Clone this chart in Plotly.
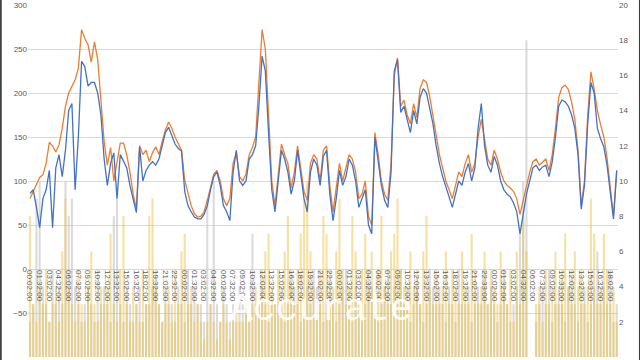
import plotly.graph_objects as go
import pandas as pd

# ---- data ----
times = pd.date_range("2021-03-01 00:02", periods=183, freq="30min").strftime("%Y-%m-%d %H:%M").tolist()

tick_labels = [
    "00:02:00", "01:32:00", "03:02:00", "04:32:00", "06:02:00", "07:32:00", "09:02:00", "10:32:00",
    "12:02:00", "13:32:00", "15:02:00", "16:32:00", "18:02:00", "19:32:00", "21:02:00", "22:32:00",
    "00:02:00", "01:32:00", "03:02:00", "04:32:00", "06:02:00", "07:32:00", "09:02:00", "10:32:00",
    "12:02:00", "13:32:00", "15:02:00", "16:32:00", "18:02:00", "19:32:00", "21:02:00", "22:32:00",
    "00:02:00", "01:32:00", "03:02:00", "04:32:00", "06:02:00", "07:32:00", "09:02:00", "10:32:00",
    "12:02:00", "13:32:00", "15:02:00", "16:32:00", "18:02:00", "19:32:00", "21:02:00", "22:33:00",
    "00:02:00", "01:32:00", "03:02:00", "04:32:00", "06:02:00", "07:32:00", "09:02:00", "10:33:00",
    "12:02:00", "13:32:00", "15:03:00", "16:32:00", "18:02:00",
]

orange_series = [
    80, 88, 95, 104, 107, 120, 144, 140, 133, 141,
    160, 185, 200, 208, 215, 228, 272, 262, 255, 235,
    258, 238, 190, 145, 118, 138, 100, 120, 143, 143,
    130, 110, 85, 68, 140, 130, 135, 122, 132, 139,
    130, 145, 158, 167, 160, 150, 142, 135, 101, 85,
    72, 63, 59,
    60, 65, 78, 95, 108, 112, 100, 80, 72, 80,
    120, 132, 105, 100, 108, 130, 138, 150, 205, 272,
    250, 170, 100, 72, 110, 142, 130, 120, 92, 110,
    140, 115, 88, 78, 120, 130, 125, 100, 135, 140,
    95, 65, 90, 120, 100, 115, 130, 125, 110, 80,
    85, 100, 60, 50, 155, 130, 100, 85, 78, 120,
    220, 240, 185, 192, 175, 165, 188, 172, 205, 215,
    212, 196, 175, 150, 130, 115, 100, 90, 80, 95,
    110, 105, 120, 130, 110, 120, 150, 170, 145, 125,
    118, 135, 125, 110, 100, 95, 92, 88, 80, 62,
    78, 95, 110, 122, 125, 118, 122, 125, 112, 130,
    160, 195, 206, 209, 204, 190, 170, 135, 72, 100,
    175, 224, 205, 180, 164, 150, 126, 90, 60, 112,
]

blue_series = [
    86, 90, 70, 47, 80, 90, 112, 47, 115, 130,
    105, 135, 180, 188, 90, 150, 236, 230, 208, 212,
    212, 200, 175, 125, 95, 120, 132, 80, 130, 122,
    115, 95, 78, 64, 139, 100, 112, 118, 122, 118,
    125, 140, 155, 161, 152, 142, 137, 134, 88, 72,
    65, 59, 57,
    57, 62, 72, 90, 105, 110, 95, 72, 65, 55,
    110, 135, 100, 95, 100, 125, 130, 140, 185, 242,
    225, 155, 90, 65, 100, 135, 125, 110, 85, 100,
    135, 105, 80, 65, 110, 125, 118, 95, 128, 135,
    85, 55, 80, 112, 95, 105, 125, 118, 100, 70,
    80, 90, 50, 40, 150, 120, 95, 78, 70, 110,
    225, 238, 178, 185, 168, 155, 180, 165, 195, 205,
    200, 184, 165, 140, 120, 105, 92, 82, 70, 85,
    100, 95, 110, 120, 100, 115, 160, 188, 140, 118,
    110, 128, 118, 100, 90, 85, 82, 75, 65, 40,
    65, 85, 100, 115, 118, 112, 116, 118, 105, 122,
    150, 185, 192, 190, 185, 175, 160, 130, 68, 95,
    165, 212, 200, 160, 148, 139, 118, 85, 57, 112,
]

yellow_bars = [
    8, 3, 2, 4, 3, 5, 2, 3, 4, 2, 6, 9, 4, 3, 2, 5, 3, 2, 4, 6, 3, 2, 4,
    3, 4, 7, 3, 2, 5, 8, 3, 2, 4, 3, 2, 5, 3, 8, 9, 4, 3, 2, 3, 4, 2, 5, 3, 6, 7, 3, 4, 2, 3,
    2, 1, 2, 3, 2, 1, 2, 3, 2, 1, 2, 3, 2, 2, 3, 2, 3, 4, 3, 5, 6, 7, 4, 3,
    5, 3, 6, 8, 4, 3, 5, 7, 9, 10, 6, 4, 3, 5, 8, 7, 3, 4, 6, 9, 5, 3, 4, 8, 6, 3, 5, 7, 4, 6, 3, 5, 8, 4, 3, 6,
    7, 9, 5, 4, 3, 6, 4, 5, 3, 6, 8, 4, 3, 5, 3, 4, 6, 3, 5, 4, 3, 6, 4, 3, 7, 5, 3, 4, 6, 3, 5, 4, 3, 6, 4, 3, 5, 2, 6, 3,
    8, 6, 0, 0,
    3, 4, 2, 5, 3, 4, 6, 3, 5, 7, 4, 3, 6, 4, 5, 3, 4, 9, 7, 3, 4, 7, 5, 3, 4, 2,
]

gray_bars = [
    2, 3, 9, 10, 4, 3, 2, 5, 3, 4, 3, 10, 8, 9, 4, 3, 2, 3, 4, 3, 2, 5, 3,
    4, 3, 2, 8, 9, 3, 2, 4, 3, 2, 3, 4, 2, 3, 3, 4, 5, 3, 2, 4, 3, 3, 2, 4, 3, 2, 5, 3, 4, 3,
    3, 2, 9, 3, 10, 3, 2, 4, 3, 2, 3, 2, 4, 3, 3, 2, 7, 3, 3, 4, 3, 2, 3, 3,
    3, 4, 2, 3, 5, 4, 3, 2, 3, 4, 3, 5, 4, 3, 2, 4, 5, 3, 2, 3, 4, 5, 3, 2, 4, 3, 2, 3, 5, 4, 3, 2, 3, 4, 5, 3,
    4, 3, 5, 3, 4, 2, 3, 4, 3, 2, 3, 5, 4, 3, 4, 3, 2, 4, 3, 2, 5, 3, 3, 4, 2, 3, 4, 3, 5, 3, 4, 3, 2, 3, 5, 3, 2, 3, 4, 7,
    10, 18, 0, 0,
    2, 3, 4, 3, 5, 2, 3, 4, 3, 2, 4, 5, 3, 2, 3, 4, 2, 3, 4, 6, 3, 4, 3, 5, 2, 3,
]

n = len(times)
assert len(orange_series) == n and len(blue_series) == n
assert len(yellow_bars) == n and len(gray_bars) == n

fig = go.Figure()
fig.add_trace(go.Bar(x=times, y=gray_bars, yaxis="y", marker=dict(color="rgba(195,195,195,0.6)", line=dict(width=0))))
fig.add_trace(go.Bar(x=times, y=yellow_bars, yaxis="y", marker=dict(color="rgba(240,196,70,0.5)", line=dict(width=0))))
fig.add_trace(go.Scatter(x=times, y=orange_series, yaxis="y2", mode="lines", line=dict(color="#ED7D31", width=1.3)))
fig.add_trace(go.Scatter(x=times, y=blue_series, yaxis="y2", mode="lines", line=dict(color="#4472C4", width=1.3)))

tickfont = dict(family="Liberation Sans, Arial, sans-serif", size=8, color="#595959")

fig.update_layout(
    width=640, height=360,
    margin=dict(l=28, r=22, t=5, b=3, autoexpand=False),
    paper_bgcolor="white", plot_bgcolor="white",
    showlegend=False,
    barmode="overlay", bargap=0.35,
    xaxis=dict(
        type="category", anchor="free", position=0.25, automargin=False,
        range=[-0.62, 182.4],
        tickmode="array", tickvals=times[::3], ticktext=tick_labels,
        tickangle=90, tickfont=tickfont, showgrid=False, showline=False,
        zeroline=False, ticks="",
    ),
    yaxis=dict(
        range=[0, 20], dtick=2, side="right", showgrid=False, zeroline=False,
        tickfont=tickfont, ticks="", automargin=False,
    ),
    yaxis2=dict(
        range=[-100, 300], dtick=50, side="left", overlaying="y", showgrid=True,
        gridcolor="#d9d9d9", gridwidth=1, zeroline=False, tickfont=tickfont, ticks="",
        automargin=False,
    ),
)

fig.add_annotation(
    text="Accurate", xref="paper", yref="paper", x=0.497, y=0.068,
    showarrow=False, font=dict(family="Liberation Mono, Courier New, monospace", size=38, color="rgba(255,255,255,0.9)"),
)

# dark frame edges seen in the screenshot
fig.add_shape(type="rect", xref="paper", yref="paper", x0=-0.0475, x1=-0.0445, y0=-0.01, y1=1.015,
              line=dict(width=0), fillcolor="#404040")
fig.add_shape(type="rect", xref="paper", yref="paper", x0=1.0355, x1=1.04, y0=-0.01, y1=1.015,
              line=dict(width=0), fillcolor="#404040")

fig.write_html("out.html", config={"displayModeBar": False},
               post_script="document.body.style.margin='0';")
